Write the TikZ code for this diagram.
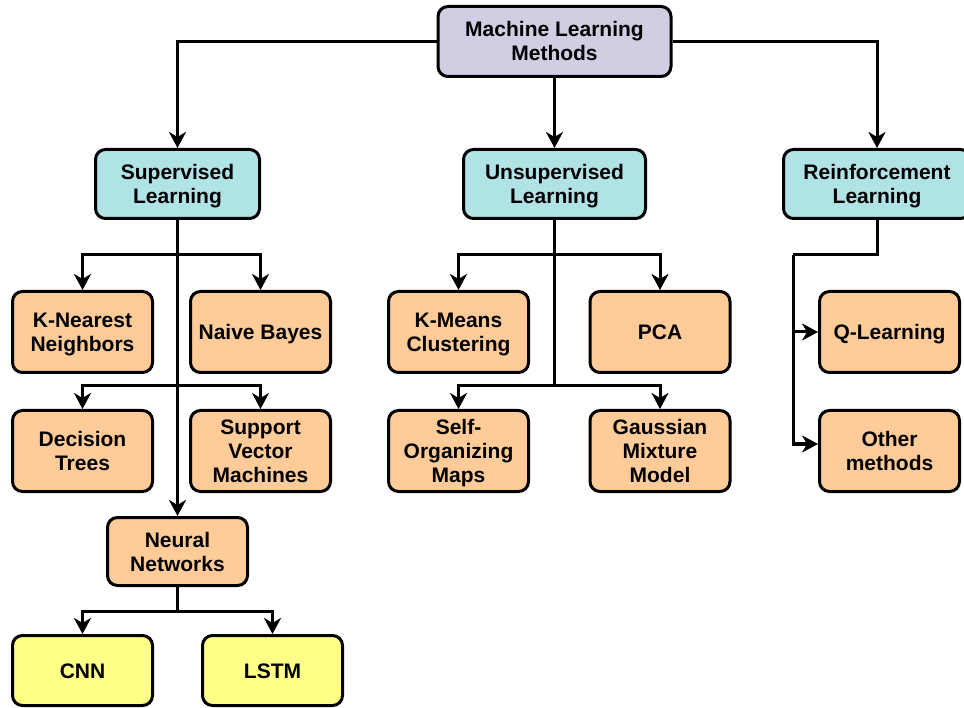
\documentclass[tikz,border=0pt]{standalone}
\usepackage{fontspec}
\setmainfont{Liberation Sans}
\usetikzlibrary{arrows.meta}
\definecolor{rootc}{HTML}{D0CEE2}
\definecolor{catc}{HTML}{B0E3E6}
\definecolor{algc}{HTML}{FFCC99}
\definecolor{subc}{HTML}{FFFF88}
\newcommand\mytop{\rule{0pt}{20pt}}
\newcommand\mybot{\rule[-5pt]{0pt}{5pt}}
\begin{document}
\begin{tikzpicture}[x=1pt,y=-1pt,
  box/.style={draw=black,line width=3pt,rounded corners=10pt,align=center,
    font=\fontsize{21}{24}\selectfont\bfseries,inner sep=0pt},
  rootbox/.style={box,fill=rootc,minimum width=233pt,minimum height=70pt},
  catbox/.style={box,fill=catc,minimum height=69pt},
  algbox/.style={box,fill=algc,minimum width=140pt,minimum height=81pt},
  subbox/.style={box,fill=subc,minimum width=140pt,minimum height=70pt},
  conn/.style={line width=3pt},
  arr/.style={conn,-{Stealth[length=16pt,width=17pt,inset=5pt]}}]
\useasboundingbox (0,0) rectangle (964,708);
\fill[white] (0,0) rectangle (964,708);
% nodes
\node[rootbox] (root) at (554.5,41.5) {\mytop Machine Learning\\Methods\mybot};
\node[catbox,minimum width=164pt] (sup) at (177.5,184) {\mytop Supervised\\Learning\mybot};
\node[catbox,minimum width=182pt] (uns) at (554.5,184) {\mytop Unsupervised\\Learning\mybot};
\node[catbox,minimum width=187pt] (rl) at (877,184) {\mytop Reinforcement\\Learning\mybot};
\node[algbox] (knn) at (82.5,332) {\mytop K-Nearest\\Neighbors\mybot};
\node[algbox] (nb) at (260.5,332) {\mytop Naive Bayes\mybot};
\node[algbox] (dt) at (82.5,451) {\mytop Decision\\Trees\mybot};
\node[algbox] (svm) at (260.5,451) {\mytop Support\\Vector\\Machines\mybot};
\node[algbox,minimum height=68pt] (nn) at (177.5,551.5) {\mytop Neural\\Networks\mybot};
\node[subbox] (cnn) at (82.5,670.5) {\mytop CNN\mybot};
\node[subbox] (lstm) at (272.5,670.5) {\mytop LSTM\mybot};
\node[algbox] (km) at (458.5,332) {\mytop K-Means\\Clustering\mybot};
\node[algbox] (pca) at (660,332) {\mytop PCA\mybot};
\node[algbox] (som) at (458.5,451) {\mytop Self-\\Organizing\\Maps\mybot};
\node[algbox] (gmm) at (660,451) {\mytop Gaussian\\Mixture\\Model\mybot};
\node[algbox] (q) at (889.5,332) {\mytop Q-Learning\mybot};
\node[algbox] (ot) at (889.5,451) {\mytop Other\\methods\mybot};
% junctions
\coordinate (s1) at (177.5,255);
\coordinate (s2) at (177.5,386);
\coordinate (u1) at (554.5,255);
\coordinate (u2) at (554.5,386);
\coordinate (n1) at (177.5,611);
\coordinate (r1) at (793,255);
% connectors
\draw[arr] (root.west) -| (sup.north);
\draw[arr] (root.east) -| (rl.north);
\draw[arr] (root.south) -- (uns.north);
\draw[arr] (sup.south) -- (nn.north);
\draw[arr] (s1) -| (knn.north);
\draw[arr] (s1) -| (nb.north);
\draw[arr] (s2) -| (dt.north);
\draw[arr] (s2) -| (svm.north);
\draw[conn] (uns.south) -- (u2);
\draw[arr] (u1) -| (km.north);
\draw[arr] (u1) -| (pca.north);
\draw[arr] (u2) -| (som.north);
\draw[arr] (u2) -| (gmm.north);
\draw[conn] (nn.south) -- (n1);
\draw[arr] (n1) -| (cnn.north);
\draw[arr] (n1) -| (lstm.north);
\draw[conn] (rl.south) |- (r1);
\draw[arr] (r1) |- (q.west);
\draw[arr] (r1) |- ([yshift=7pt]ot.west);
\end{tikzpicture}
\end{document}
